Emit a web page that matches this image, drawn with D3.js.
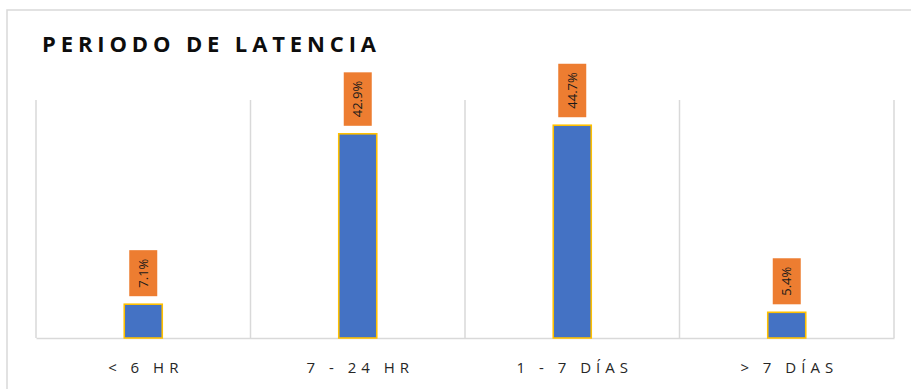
<!DOCTYPE html>
<html>
<head>
<meta charset="utf-8">
<script src="https://cdn.jsdelivr.net/npm/d3@7"></script>
<style>
  html, body { margin: 0; padding: 0; background: #ffffff; }
  svg { display: block; }
  text { font-family: "Open Sans", "DejaVu Sans", sans-serif; }
</style>
</head>
<body>
<svg id="chart" width="911" height="389"></svg>
<script>
// ---- data ----
const title = "PERIODO DE LATENCIA";
const categories = ["< 6 HR", "7 - 24 HR", "1 - 7 DÍAS", "> 7 DÍAS"];
const values = [7.1, 42.9, 44.7, 5.4];
const valueLabels = ["7.1%", "42.9%", "44.7%", "5.4%"];
const yDomain = [0, 50];

// ---- layout ----
const W = 911, H = 389;
const plot = { left: 36, right: 894, top: 100, bottom: 338 };
const svg = d3.select("#chart");

// outer chart border
svg.append("rect")
  .attr("x", 7).attr("y", 10)
  .attr("width", W + 20).attr("height", H + 20)
  .attr("fill", "#ffffff")
  .attr("stroke", "#d9d9d9").attr("stroke-width", 1.5);

const x = d3.scaleBand().domain(categories).range([plot.left, plot.right]).padding(0);
const y = d3.scaleLinear().domain(yDomain).range([plot.bottom, plot.top]);

// vertical category gridlines
const bounds = categories.map(c => x(c)).concat([x(categories[categories.length - 1]) + x.bandwidth()]);
svg.append("g").selectAll("line").data(bounds).join("line")
  .attr("x1", d => d).attr("x2", d => d)
  .attr("y1", y(yDomain[1])).attr("y2", y(0))
  .attr("stroke", "#d9d9d9").attr("stroke-width", 1.5);

// baseline axis
const xAxis = d3.axisBottom(x).tickSize(0).tickPadding(0);
const gx = svg.append("g").attr("transform", `translate(0,${y(0)})`).call(xAxis);
gx.select(".domain").attr("stroke", "#d9d9d9").attr("stroke-width", 1.5);
gx.selectAll(".tick text")
  .attr("y", 35)
  .attr("dy", 0)
  .attr("x", 2.5)
  .attr("fill", "#262626")
  .style("font-size", "15px")
  .style("letter-spacing", "5px")
  .style("font-family", "'Open Sans', sans-serif");

// bars
const barW = 38;
const data = categories.map((c, i) => ({ c, v: values[i], label: valueLabels[i] }));
svg.append("g").selectAll("rect").data(data).join("rect")
  .attr("x", d => x(d.c) + x.bandwidth() / 2 - barW / 2)
  .attr("y", d => y(d.v))
  .attr("width", barW)
  .attr("height", d => y(0) - y(d.v))
  .attr("fill", "#4472c4")
  .attr("stroke", "#ffc000").attr("stroke-width", 1.6);

// data labels (rotated in orange boxes)
const lg = svg.append("g");
data.forEach(d => {
  const cx = x(d.c) + x.bandwidth() / 2;
  const g = lg.append("g");
  const t = g.append("text")
    .attr("transform", "rotate(-90)")
    .attr("text-anchor", "middle")
    .style("font-size", "13px")
    .attr("fill", "#1a1a1a")
    .text(d.label);
  const len = t.node().getComputedTextLength();
  const boxH = len + 17, boxW = 28;
  const boxBottom = y(d.v) - 8;
  const boxTop = boxBottom - boxH;
  g.insert("rect", "text")
    .attr("x", cx - boxW / 2).attr("y", boxTop)
    .attr("width", boxW).attr("height", boxH)
    .attr("fill", "#ed7d31");
  const midY = boxTop + boxH / 2;
  t.attr("transform", `translate(${cx + 4.5},${midY}) rotate(-90)`);
});

// title
svg.append("text")
  .attr("x", 42).attr("y", 52)
  .attr("fill", "#0d0d0d")
  .style("font-size", "22px")
  .style("font-weight", "bold")
  .attr("textLength", 334)
  .attr("lengthAdjust", "spacing")
  .text(title);
</script>
</body>
</html>
